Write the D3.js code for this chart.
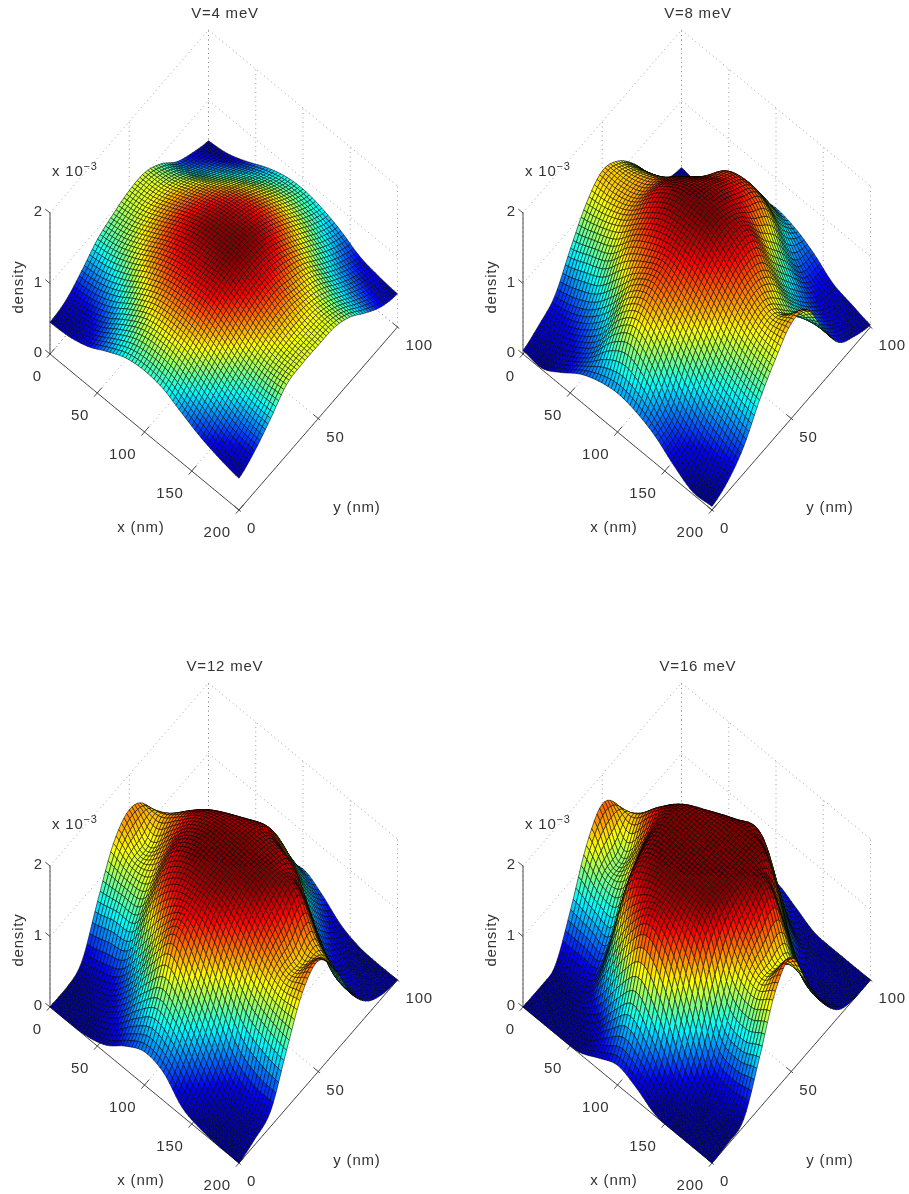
<!DOCTYPE html>
<html><head><meta charset="utf-8">
<script src="https://cdn.jsdelivr.net/npm/d3@7/dist/d3.min.js"></script>
<style>
html,body{margin:0;padding:0;background:#fff}
svg{display:block;filter:blur(0.45px)}
text{font-family:"Liberation Sans",Arial,sans-serif;font-size:15px;fill:#333;letter-spacing:.8px}
</style></head><body>
<svg id="c" width="909" height="1194"></svg>
<script>
// Values at a coarse sampling: density (x 10^-3),
// one row per y = 0,10,...,100 nm, one column per x = 0,20,...,200 nm.
// The fine mesh is a smooth resampling of these readings for drawing.
const titles = ["V=4 meV","V=8 meV","V=12 meV","V=16 meV"];
const xSamples = [0,20,40,60,80,100,120,140,160,180,200];
const ySamples = [0,10,20,30,40,50,60,70,80,90,100];
const xTicks = [0,50,100,150,200];
const yTicks = [0,50,100];
const zTicks = [0,1,2];

const density4 = [
[.45,.47,.55,.70,.83,.87,.83,.70,.58,.50,.45],
[.50,.53,.63,.82,.98,1.03,1.00,.87,.73,.62,.58],
[.66,.70,.82,1.00,1.14,1.18,1.16,1.05,.90,.80,.78],
[.85,.90,1.02,1.18,1.28,1.32,1.32,1.20,1.05,.98,1.00],
[.95,1.00,1.13,1.28,1.38,1.41,1.42,1.32,1.17,1.06,1.04],
[1.02,1.06,1.18,1.32,1.42,1.45,1.45,1.36,1.22,1.08,1.04],
[1.02,1.05,1.16,1.28,1.38,1.42,1.42,1.31,1.15,1.06,1.03],
[.88,.94,1.06,1.18,1.28,1.32,1.29,1.18,1.05,.94,.92],
[.65,.74,.88,1.02,1.12,1.16,1.12,1.00,.85,.76,.72],
[.52,.60,.72,.84,.94,.98,.93,.82,.68,.60,.55],
[.43,.47,.58,.72,.82,.85,.80,.70,.56,.50,.47]];

const density8 = [
[.05,.02,.18,.38,.50,.55,.50,.38,.18,.03,.05],
[.15,.15,.28,.50,.90,1.10,.90,.50,.30,.18,.15],
[.30,.38,.55,.85,1.25,1.42,1.25,.95,.65,.50,.38],
[.72,.84,.98,1.30,1.50,1.62,1.50,1.30,1.00,.85,.78],
[1.10,1.16,1.30,1.55,1.75,1.80,1.75,1.55,1.32,1.15,1.10],
[1.30,1.30,1.40,1.70,1.88,1.90,1.88,1.72,1.45,1.25,1.35],
[1.18,1.25,1.38,1.60,1.78,1.85,1.80,1.68,1.30,1.00,1.28],
[.88,.95,1.10,1.35,1.58,1.70,1.60,1.25,.85,.70,.75],
[.47,.50,.70,.98,1.40,1.50,1.40,.90,.50,.38,.30],
[.15,.18,.32,.50,.85,1.05,.85,.45,.25,.15,.13],
[.05,.02,.18,.38,.52,.58,.52,.38,.18,.10,.03]];

const density12 = [
[0,0,.02,.12,.33,.47,.40,.12,.03,0,0],
[0,.04,.12,.35,.70,.95,.75,.38,.10,.06,.08],
[.12,.20,.35,.75,1.25,1.60,1.25,.80,.38,.22,.22],
[.72,.80,.85,1.40,1.75,1.85,1.75,1.40,1.05,.90,.82],
[1.28,1.15,1.25,1.75,1.95,1.97,1.95,1.80,1.50,1.30,1.38],
[1.50,1.20,1.50,1.85,2.0,2.0,2.0,1.98,1.72,1.32,1.57],
[1.32,1.40,1.62,1.85,1.95,1.98,1.97,1.95,1.90,1.40,1.20],
[.72,1.00,1.35,1.60,1.78,1.88,1.85,1.72,1.20,.70,.60],
[.12,.30,.55,.90,1.30,1.55,1.30,.80,.38,.22,.22],
[0,.04,.12,.35,.70,.95,.70,.35,.12,.06,.05],
[0,0,.02,.12,.33,.47,.33,.12,.02,0,0]];

const density16 = [
[0,0,0,.02,.16,.28,.18,.02,0,0,0],
[0,0,.04,.18,.58,.88,.60,.18,.04,.02,.02],
[.05,.08,.22,.85,1.42,1.75,1.50,.85,.22,.10,.10],
[.60,.55,.55,1.60,1.90,1.95,1.90,1.65,.75,.60,.72],
[1.25,.98,1.10,1.85,2.0,2.0,2.0,1.95,1.40,1.20,1.40],
[1.58,1.05,1.45,1.95,2.0,2.0,2.0,2.0,1.75,1.25,1.62],
[1.30,1.40,1.70,1.95,2.0,2.0,2.0,2.0,1.90,1.20,1.00],
[.60,.90,1.28,1.65,1.85,1.95,2.0,1.90,1.10,.55,.45],
[.05,.15,.30,.80,1.35,1.60,1.65,.90,.22,.08,.10],
[0,0,.04,.18,.55,.80,.55,.18,.04,0,0],
[0,0,0,.02,.16,.28,.16,.02,0,0,0]];

const panels = [density4,density8,density12,density16];

const svg = d3.select("#c");
const cols = 60, rows = 60;
const panelDX = d3.scaleOrdinal([0,1,2,3],[0,473,0,473]);
const panelDY = d3.scaleOrdinal([0,1,2,3],[0,0,653,653]);

// 3D -> screen: each data axis contributes linearly to screen x and y
const xToSx = d3.scaleLinear([0,200],[50,239]);
const yToSx = d3.scaleLinear([0,100],[0,158.5]);
const xToSy = d3.scaleLinear([0,200],[354,510]);
const yToSy = d3.scaleLinear([0,100],[0,-183]);
const zToSy = d3.scaleLinear([0,2],[0,-141]);
const proj = (x,y,z)=>[xToSx(x)+yToSx(y), xToSy(x)+yToSy(y)+zToSy(z)];

const jet = d3.scaleLinear()
  .domain([0,.125,.375,.625,.875,1])
  .range(["rgb(0,0,143)","rgb(0,0,255)","rgb(0,255,255)","rgb(255,255,0)","rgb(255,0,0)","rgb(128,0,0)"]);

function cr(p0,p1,p2,p3,f){
  return .5*((2*p1)+(-p0+p2)*f+(2*p0-5*p1+4*p2-p3)*f*f+(-p0+3*p1-3*p2+p3)*f*f*f);
}
function sample(tab,x,y){
  const n=xSamples.length-1,m=ySamples.length-1;
  const gx=x/200*n, gy=y/100*m;
  const ix=Math.min(n-1,Math.floor(gx)), iy=Math.min(m-1,Math.floor(gy));
  const fx=gx-ix, fy=gy-iy;
  const at=(a,b)=>tab[Math.max(0,Math.min(m,b))][Math.max(0,Math.min(n,a))];
  const r=[-1,0,1,2].map(d=>cr(at(ix-1,iy+d),at(ix,iy+d),at(ix+1,iy+d),at(ix+2,iy+d),fx));
  return Math.max(0,Math.min(2,cr(r[0],r[1],r[2],r[3],fy)));
}

panels.forEach((tab,pi)=>{
  const g = svg.append("g").attr("transform",`translate(${panelDX(pi)},${panelDY(pi)})`);
  const line=(a,b,cls)=>{
    const l=g.append("line").attr("x1",a[0]).attr("y1",a[1]).attr("x2",b[0]).attr("y2",b[1]);
    if(cls==="grid") l.attr("stroke","#8a8a8a").attr("stroke-width",.8).attr("stroke-dasharray","1,3.5");
    else l.attr("stroke","#3a3a3a").attr("stroke-width",.9);
  };
  // dotted walls and floor
  zTicks.forEach(z=>{
    line(proj(0,0,z),proj(0,100,z),"grid");
    line(proj(0,100,z),proj(200,100,z),"grid");
  });
  yTicks.forEach(y=>{
    line(proj(0,y,0),proj(0,y,2),"grid");
    line(proj(0,y,0),proj(200,y,0),"grid");
  });
  xTicks.forEach(x=>{
    line(proj(x,100,0),proj(x,100,2),"grid");
    line(proj(x,0,0),proj(x,100,0),"grid");
  });
  // axes
  line(proj(0,0,0),proj(200,0,0));
  line(proj(200,0,0),proj(200,100,0));
  line(proj(0,0,0),proj(0,0,2));
  xTicks.forEach(x=>line(proj(x,-2,0),proj(x,3,0)));
  yTicks.forEach(y=>line(proj(202,y,0),proj(195,y,0)));
  zTicks.forEach(z=>line(proj(0,0,z),proj(-5,0,z)));

  // surface
  const xs=d3.range(cols+1).map(i=>i/cols*200), ys=d3.range(rows+1).map(j=>j/rows*100);
  const Z=ys.map(y=>xs.map(x=>sample(tab,x,y)));
  const zmin=d3.min(Z,r=>d3.min(r)), zmax=d3.max(Z,r=>d3.max(r));
  const norm=d3.scaleLinear([zmin,zmax],[0,1]).clamp(true);
  const quads=[];
  for(let i=0;i<cols;i++) for(let j=rows-1;j>=0;j--){
    const c=[[i,j],[i+1,j],[i+1,j+1],[i,j+1]];
    const pts=c.map(([a,b])=>proj(xs[a],ys[b],Z[b][a]));
    quads.push({pts,z:d3.mean(c,([a,b])=>Z[b][a])});
  }
  g.append("g").selectAll("path").data(quads).join("path")
    .attr("d",d=>{const p=d3.path();p.moveTo(...d.pts[0]);d.pts.slice(1).forEach(q=>p.lineTo(...q));p.closePath();return p.toString();})
    .attr("fill",d=>jet(norm(d.z)))
    .attr("stroke","#000").attr("stroke-width",.55).attr("stroke-linejoin","round");

  // text
  const txt=(x,y,s,anchor="middle")=>g.append("text").attr("x",x).attr("y",y).attr("text-anchor",anchor).text(s);
  txt(225,18,titles[pi]);
  xTicks.forEach(x=>{const p=proj(x,0,0);txt(p[0]-8,p[1]+27,String(x),"end");});
  yTicks.forEach(y=>{const p=proj(200,y,0);txt(p[0]+8,p[1]+23,String(y),"start");});
  zTicks.forEach(z=>{const p=proj(0,0,z);txt(43,p[1]+3,String(z),"end");});
  txt(141,532,"x (nm)");
  txt(357,512,"y (nm)");
  g.append("text").attr("transform","translate(23,287) rotate(-90)").attr("text-anchor","middle").text("density");
  const e=g.append("text").attr("x",52).attr("y",176);
  e.append("tspan").text("x 10");
  e.append("tspan").attr("dy",-6).style("font-size","11px").text("\u22123");
});
</script>
</body></html>
